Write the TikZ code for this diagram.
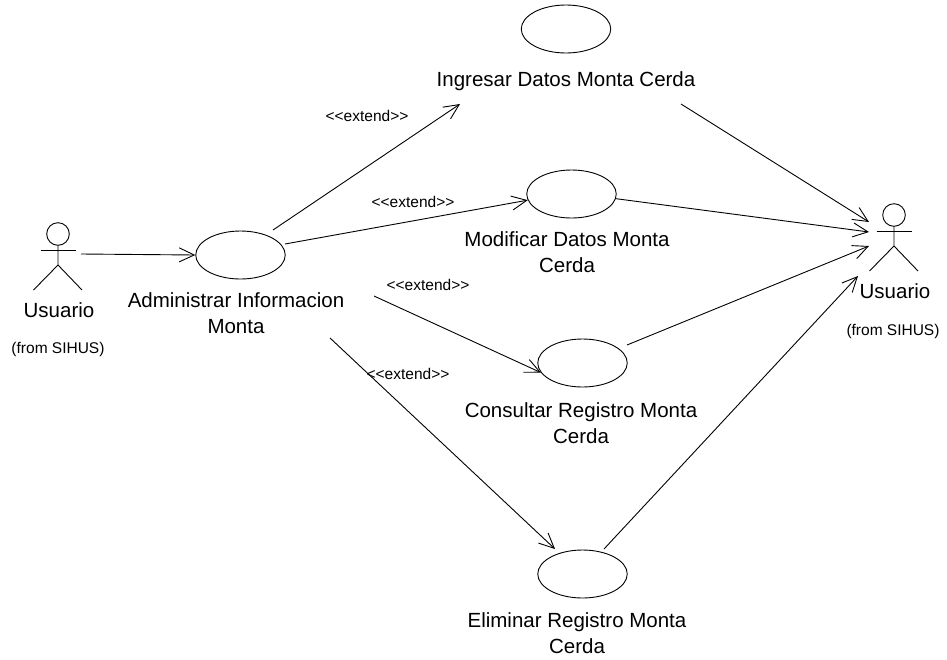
\documentclass[tikz,border=0pt]{standalone}
\usepackage{fontspec}
\setmainfont{Liberation Sans}
\usetikzlibrary{arrows.meta,shapes.geometric}
\tikzset{
  case/.style={draw=black,line width=0.9pt,ellipse,inner sep=0pt,minimum width=89.5pt,minimum height=48pt},
  uclabel/.style={align=center,font=\fontsize{20.5}{25.7}\selectfont,inner sep=0pt},
  small/.style={font=\fontsize{15.5}{18}\selectfont,inner sep=0pt},
  conn/.style={line width=0.9pt,-{Straight Barb[length=15pt,width=14pt,line width=0.9pt]}},
  stick/.style={line width=0.9pt}
}
\newcommand{\stickfigure}[2]{%
  \draw[stick] (#1,#2) circle (11.3);
  \draw[stick] (#1-17.5,#2+16.5) -- (#1+17.5,#2+16.5);
  \draw[stick] (#1,#2+11.3) -- (#1,#2+31) -- (#1-24.5,#2+56);
  \draw[stick] (#1,#2+31) -- (#1+24,#2+56);
}
\newcommand{\extlabel}{<{}<extend>{}>}
\begin{document}
\begin{tikzpicture}[x=1pt,y=-1pt]
\useasboundingbox (0,0) rectangle (947,659);
\node[case] (admin) at (240.5,255) {};
\node[case] (ing) at (566,29) {};
\node[case] (mod) at (571.5,194) {};
\node[case] (cons) at (582.5,363) {};
\node[case] (elim) at (582.5,574) {};

\node[uclabel] (adminl) at (236,313) {Administrar Informacion\\Monta};
\node[uclabel] (ingl) at (566,81.5) {Ingresar Datos Monta Cerda};
\node[uclabel] (modl) at (567,252.5) {Modificar Datos Monta\\Cerda};
\node[uclabel] (consl) at (581,423.5) {Consultar Registro Monta\\Cerda};
\node[uclabel] (eliml) at (577,633) {Eliminar Registro Monta\\Cerda};

\stickfigure{58}{234}
\stickfigure{894}{215}
\node[uclabel] (ul) at (59,310) {Usuario};
\node[small] (fl) at (58,349) {(from SIHUS)};
\node[uclabel] (ur) at (895,291) {Usuario};
\node[small] (fr) at (893,331) {(from SIHUS)};

\node[small] (e1) at (367,116) {\extlabel};
\node[small] (e2) at (413,202) {\extlabel};
\node[small] (e3) at (428,285) {\extlabel};
\node[small] (e4) at (408,374) {\extlabel};

\coordinate (leftout) at (81,254);
\coordinate (adminup) at (273,230);
\coordinate (adminright) at (285,244);
\coordinate (ingin) at (460,104);
\coordinate (adminmid) at (374,296);
\coordinate (adminlow) at (330,338);
\coordinate (elimin) at (555,549);
\coordinate (ingout) at (681,104);
\coordinate (consout) at (627,345);
\coordinate (elimout) at (604,549);
\coordinate (ra) at (869,222);
\coordinate (rb) at (869,232);
\coordinate (rc) at (869,246);
\coordinate (rd) at (858,276);

\draw[conn] (leftout) -- (admin.west);
\draw[conn] (adminup) -- (ingin);
\draw[conn] (adminright) -- (mod.188);
\draw[conn] (adminmid) -- (cons.193);
\draw[conn] (adminlow) -- (elimin);
\draw[conn] (ingout) -- (ra);
\draw[conn] (mod.354) -- (rb);
\draw[conn] (consout) -- (rc);
\draw[conn] (elimout) -- (rd);
\end{tikzpicture}
\end{document}
